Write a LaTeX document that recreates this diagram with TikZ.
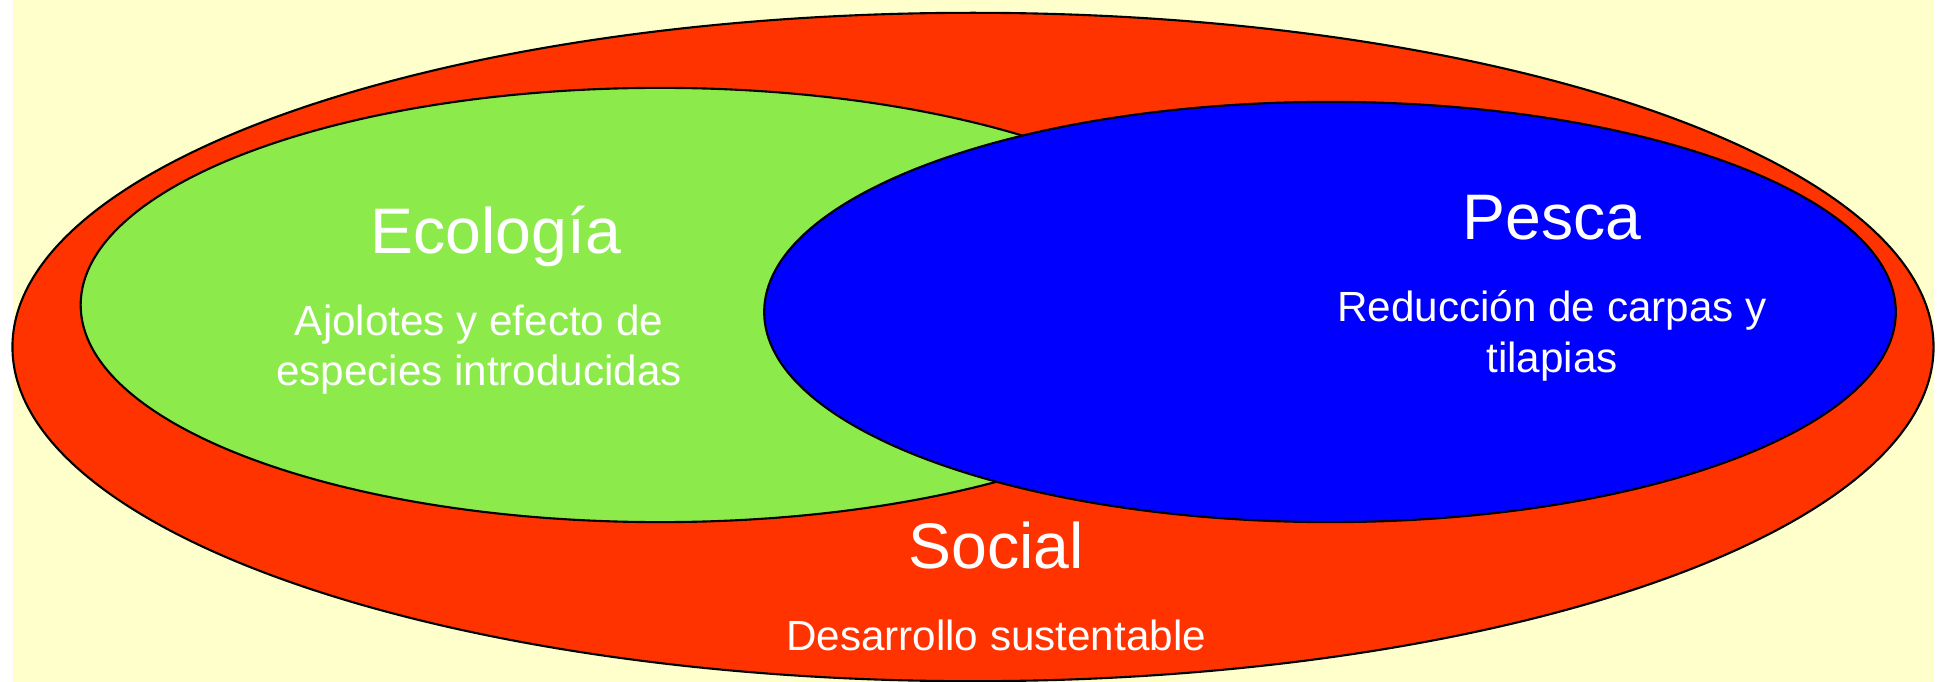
\documentclass[tikz,border=0pt]{standalone}
\usepackage{fontspec}
\setmainfont{Liberation Sans}
\usetikzlibrary{shapes.geometric}
\definecolor{fondo}{HTML}{FFFFCC}
\definecolor{rojo}{HTML}{FF3300}
\definecolor{verde}{HTML}{8CEB4B}
\definecolor{azul}{HTML}{0000FF}

\begin{document}
\begin{tikzpicture}[x=0.01cm,y=-0.01cm,
  zona/.style={ellipse,draw=black,line width=0.6pt,inner sep=0pt},
  titulo/.style={anchor=base,text=white,font=\fontsize{18.3}{22}\selectfont},
  detalle/.style={anchor=base,text=white,align=center,font=\fontsize{12}{14.5}\selectfont}]
  \useasboundingbox (0,0) rectangle (1939,682);
  \fill[fondo] (13,0) rectangle (1934,682);

  \node[zona,fill=rojo,minimum width=19.2cm,minimum height=6.68cm] (soc) at (973,347) {};
  \node[zona,fill=verde,minimum width=11.58cm,minimum height=4.34cm] (eco) at (660,305) {};
  \node[zona,fill=azul,minimum width=11.31cm,minimum height=4.2cm] (pes) at (1330,312) {};

  % base = last line of the two-line texts
  \node[titulo] (ecot) at (496,254) {Ecología};
  \node[detalle] (ecod) at (479,386) {Ajolotes y efecto de\\especies introducidas};
  \node[titulo] (pest) at (1552,239) {Pesca};
  \node[detalle] (pesd) at (1552,372) {Reducción de carpas y\\tilapias};
  \node[titulo] (soct) at (996,568) {Social};
  \node[detalle] (socd) at (996,650) {Desarrollo sustentable};
\end{tikzpicture}
\end{document}
